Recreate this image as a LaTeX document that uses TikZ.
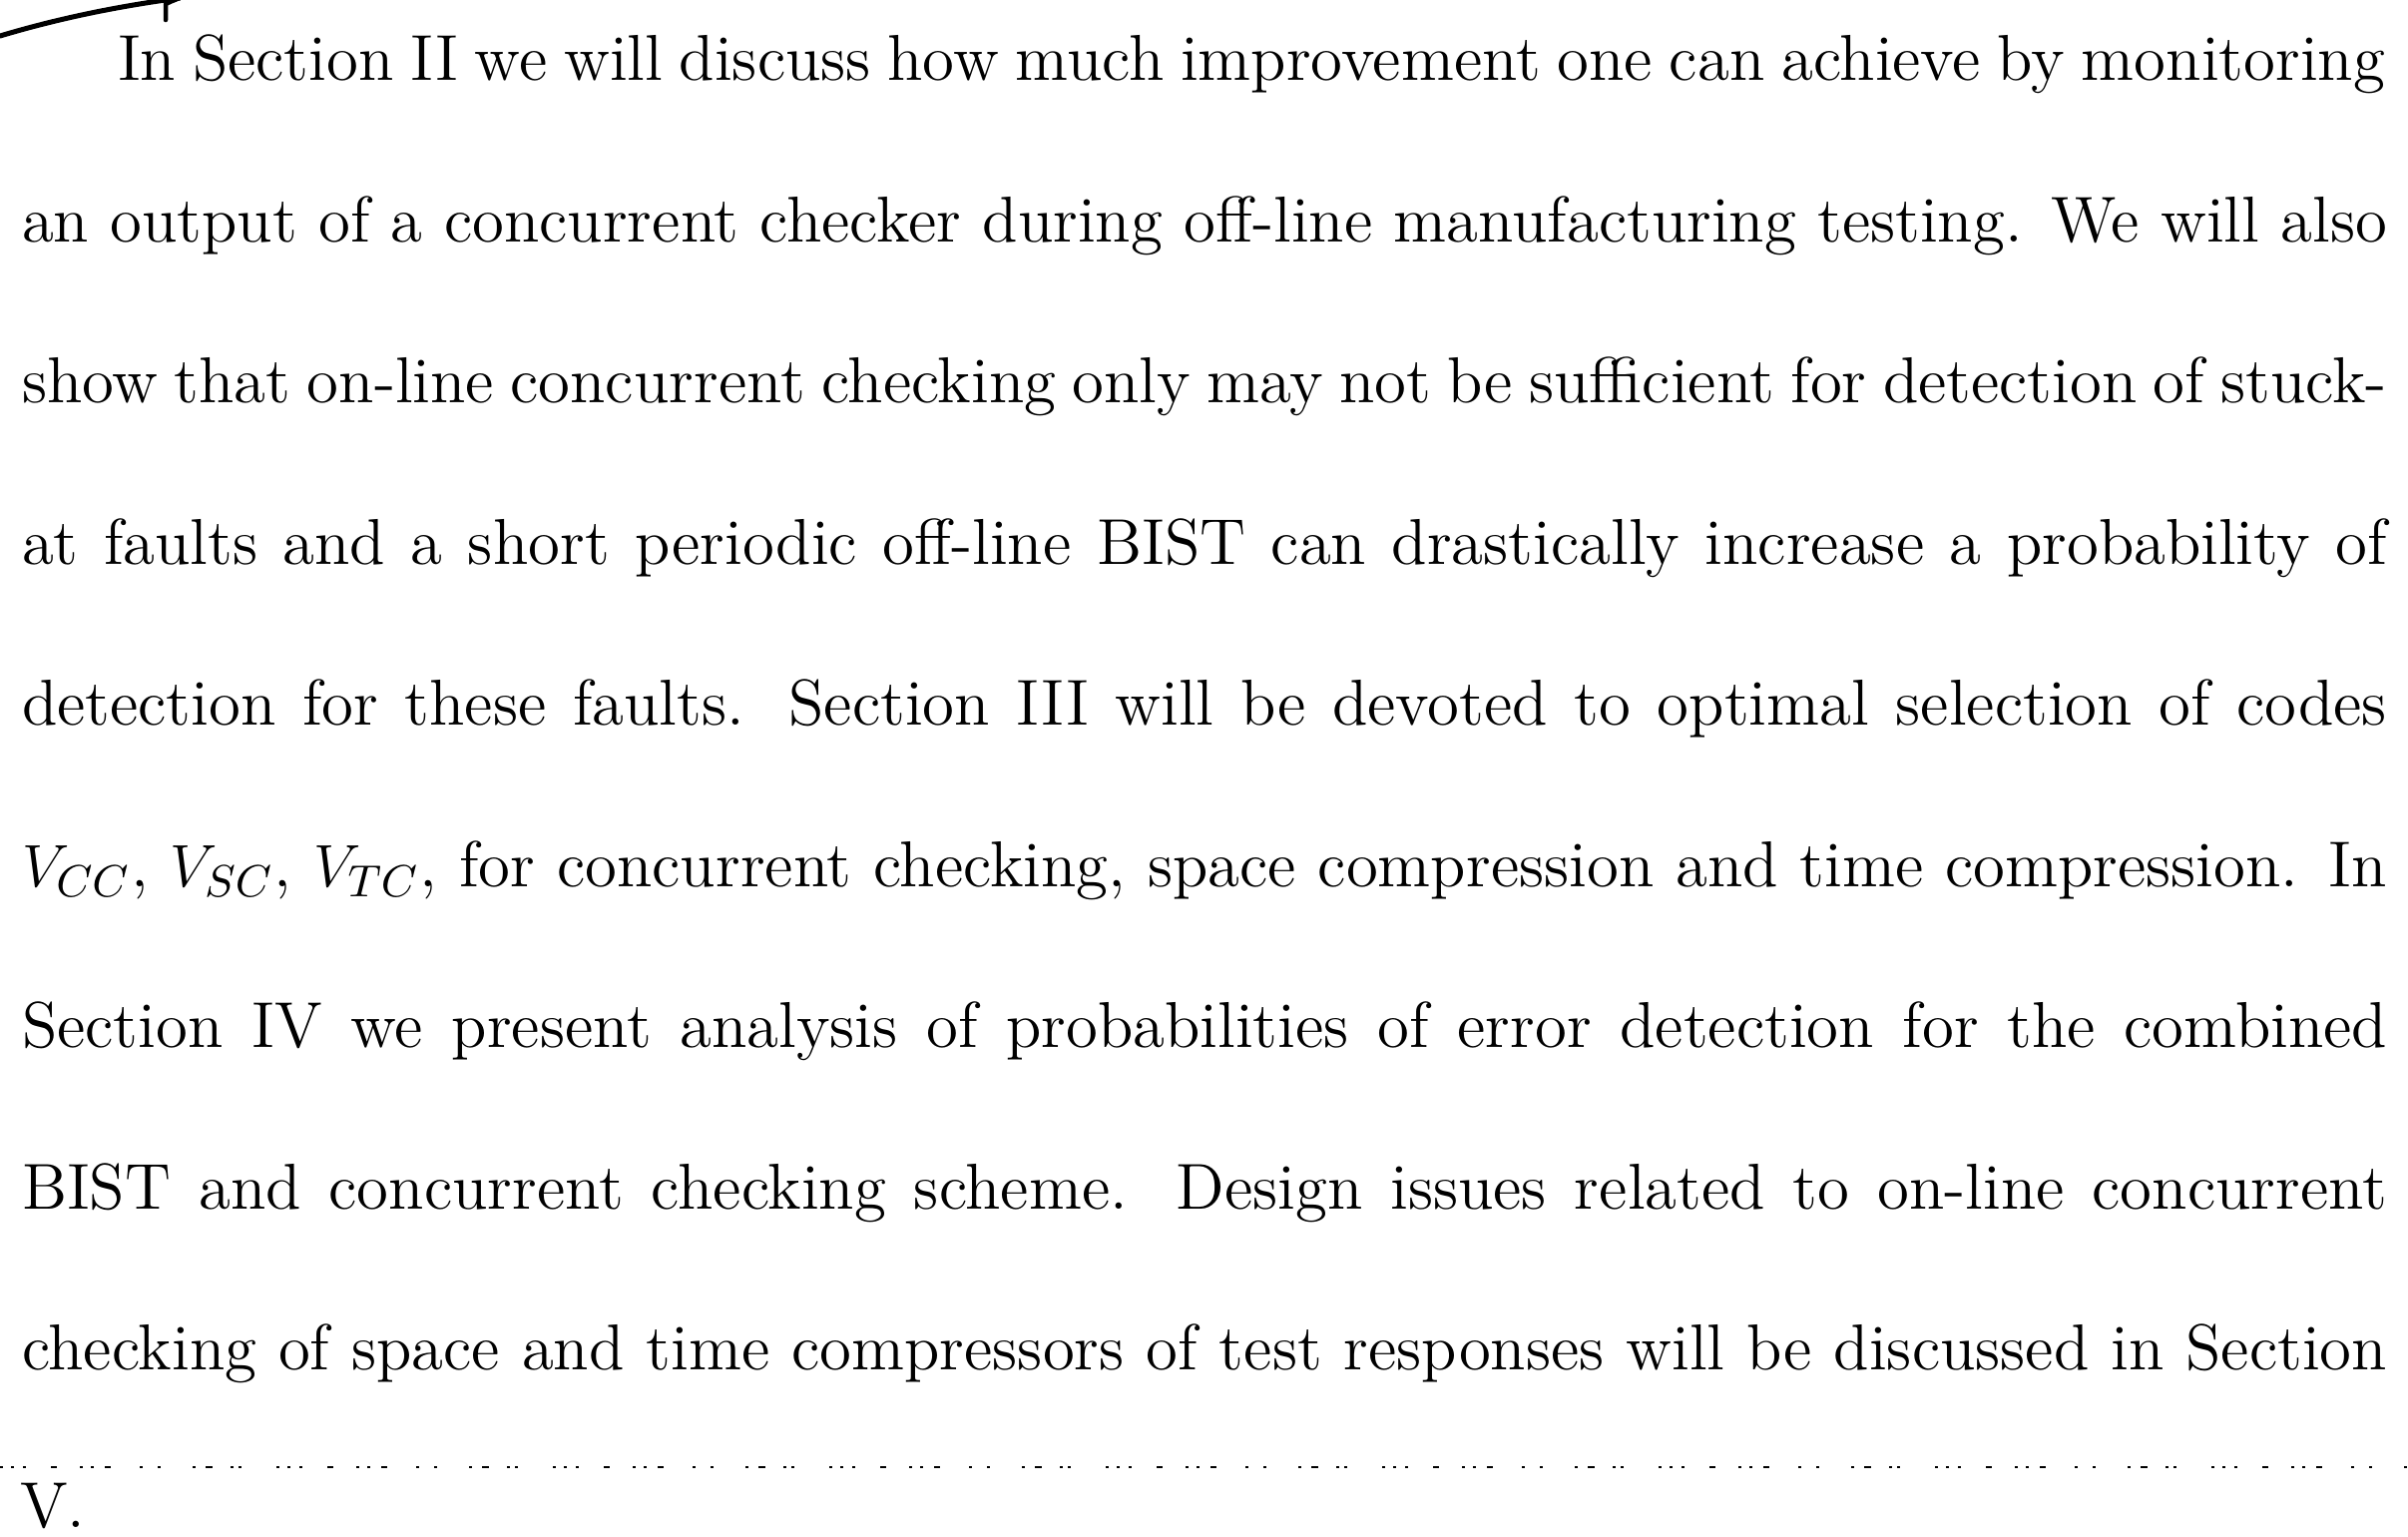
\documentclass[tikz,border=0pt]{standalone}
\begin{document}
\begin{tikzpicture}[x=0.2pt,y=-0.2pt,
  txtline/.style={anchor=base west,inner sep=0pt,outer sep=0pt,font=\fontsize{13}{16}\selectfont},
  scanrule/.style={line width=0.5pt,dash pattern=on 0.6pt off 1.6pt on 0.6pt off 1.8pt on 0.6pt off 5pt on 1.2pt off 4.6pt on 0.6pt off 1.6pt on 0.6pt off 2.2pt on 1.2pt off 5.8pt on 0.6pt off 3pt on 0.6pt off 6.4pt on 0.6pt off 2pt on 1.4pt off 3.6pt on 0.6pt off 1pt on 0.6pt off 7pt}]
\useasboundingbox (0,0) rectangle (2413,1539);
\def\wfull{474pt}
\node[txtline] (l1) at (118,80) {\makebox[454.4pt][s]{In Section II we will discuss how much improvement one can achieve by monitoring}};
\node[txtline] (l2) at (22,242) {\makebox[\wfull][s]{an output of a concurrent checker during off-line manufacturing testing. We will also}};
\node[txtline] (l3) at (22,403) {\makebox[\wfull][s]{show that on-line concurrent checking only may not be sufficient for detection of stuck-}};
\node[txtline] (l4) at (22,565) {\makebox[\wfull][s]{at faults and a short periodic off-line BIST can drastically increase a probability of}};
\node[txtline] (l5) at (22,726) {\makebox[\wfull][s]{detection for these faults. Section III will be devoted to optimal selection of codes}};
\node[txtline] (l6) at (22,888) {\makebox[\wfull][s]{$V_{CC}$, $V_{SC}$, $V_{TC}$, for concurrent checking, space compression and time compression. In}};
\node[txtline] (l7) at (22,1049) {\makebox[\wfull][s]{Section IV we present analysis of probabilities of error detection for the combined}};
\node[txtline] (l8) at (22,1211) {\makebox[\wfull][s]{BIST and concurrent checking scheme. Design issues related to on-line concurrent}};
\node[txtline] (l9) at (22,1372) {\makebox[\wfull][s]{checking of space and time compressors of test responses will be discussed in Section}};
\node[txtline] (l10) at (20,1530) {V.};
\coordinate (r1) at (0,1470);
\coordinate (r2) at (2413,1470);
\draw[scanrule] (r1) -- (r2);
\coordinate (c1) at (0,36);
\coordinate (c2) at (180,-2);
\coordinate (h1) at (166,4);
\coordinate (h2) at (166,20);
\draw[line width=1pt,line cap=round] (c1) .. controls (60,18) and (120,6) .. (c2);
\draw[line width=0.9pt,line cap=round] (c2) .. controls (170,2) .. (h1) -- (h2);
\end{tikzpicture}
\end{document}
